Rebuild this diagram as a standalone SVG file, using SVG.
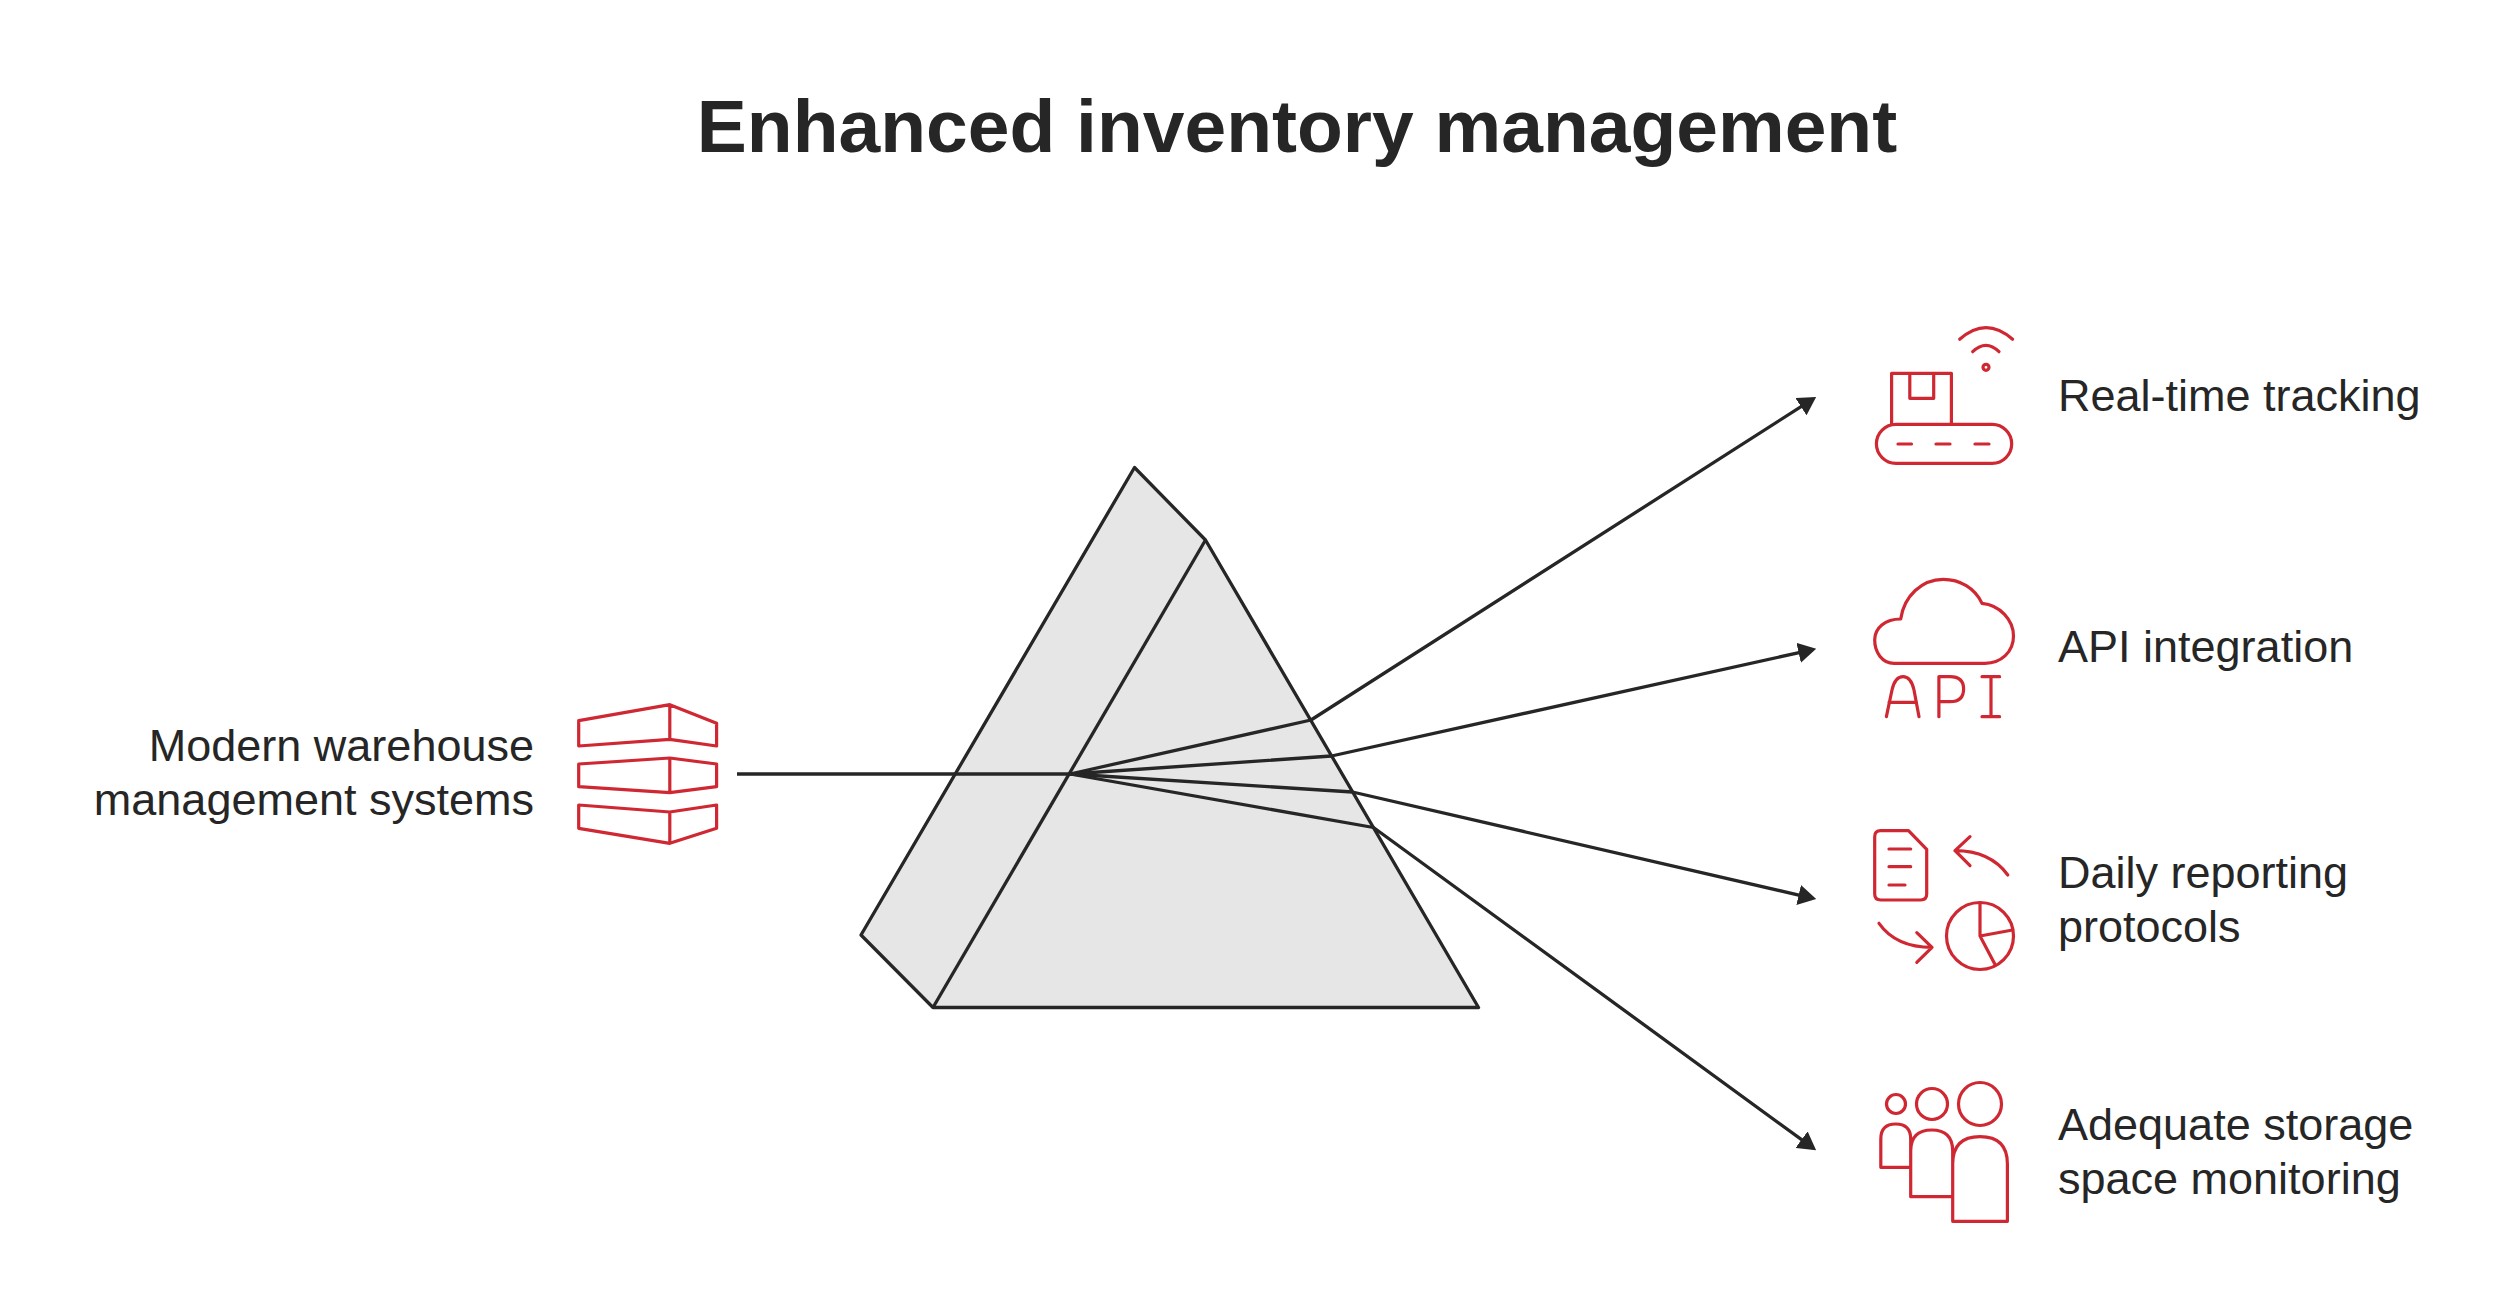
<svg xmlns="http://www.w3.org/2000/svg" width="2520" height="1307" viewBox="0 0 2520 1307">
<style>
text{font-family:"Liberation Sans",Arial,sans-serif;fill:#262626}
.t{font-size:45px}
.r{stroke:#CF2832;stroke-width:3.2;fill:none;stroke-linejoin:round;stroke-linecap:round}
.k{stroke:#262626;stroke-width:3.3;fill:none;stroke-linejoin:round}
.p{stroke:#262626;stroke-width:3.3;fill:#E6E6E6;stroke-linejoin:round}
.a{marker-end:url(#ah)}
</style>
<defs><marker id="ah" viewBox="0 0 18 20.5" refX="14.5" refY="10.25" markerWidth="18" markerHeight="20.5" markerUnits="userSpaceOnUse" orient="auto"><path d="M0 0L18 10.25L0 20.5Z" fill="#262626"/></marker></defs>
<rect width="2520" height="1307" fill="#fff"/>
<text x="1297" y="152" font-size="75" font-weight="700" text-anchor="middle">Enhanced inventory management</text>
<g id="prism"><path d="M1134.5 467.5L1205.5 540L1478.5 1007.5H933L861 935Z" class="p"/><path d="M1205.5 540L933 1007.5" class="k"/></g>
<g id="connectors">
<path class="k" d="M737 774H1070"/>
<path class="k a" d="M1070 774L1311 720L1813.2 398.9"/>
<path class="k a" d="M1070 774L1331.5 756L1812.8 649.6"/>
<path class="k a" d="M1070 774L1352.5 792L1812.8 898.3"/>
<path class="k a" d="M1070 774L1373.5 827.5L1813.3 1148.2"/>
</g>
<g id="source"><text class="t" x="534" y="761" text-anchor="end">Modern warehouse</text><text class="t" x="534" y="815" text-anchor="end">management systems</text>
<path class="r" d="M578.7 720.7L669.8 704.7L716.6 723.3V746L669.8 739.3L578.7 746ZM669.8 704.7V739.3M578.7 764L669.8 758L716.6 764V786.7L669.8 792.7L578.7 786.7ZM669.8 758V792.7M578.7 805L669.8 812L716.6 805V828.3L669.8 843.3L578.7 828.3ZM669.8 812V843.3"/></g>
<g id="tracking"><text class="t" x="2058" y="411">Real-time tracking</text>
<path class="r" d="M1959.7 339.3Q1986 316 2012.6 339.3M1972.7 351.7Q1986 339 1999 351.7"/><circle class="r" cx="1986" cy="367.3" r="3"/>
<path class="r" d="M1891.6 424.3V373.3H1951.4V424.3M1909.8 373.3V398.3H1933.7V373.3"/><rect class="r" x="1876.4" y="424.3" width="135.3" height="39" rx="19.5"/>
<path class="r" d="M1898 444H1911.5M1936 444H1950M1975 444H1989"/></g>
<g id="api"><text class="t" x="2058" y="662">API integration</text>
<path class="r" d="M1894 663.3C1882 663.3 1874.7 652 1874.7 640C1874.7 628 1885 619 1900.7 619C1904 596 1922 579.3 1943.2 579.3C1960 579.3 1975 588 1982 603.3C2000 605 2013.5 620 2013.5 636C2013.5 652 2001 663.3 1985 663.3Z"/>
<path class="r" d="M1886.4 716.7L1892 690Q1895 676.7 1903 676.7Q1911 676.7 1914 690L1919 716.7M1889 702.3H1916.5M1938.9 716.7V676.7H1950Q1963.6 676.7 1963.6 689Q1963.6 701.7 1950 701.7H1938.9M1991 676.7V716.7M1982 676.7H1999.6M1982 716.7H1999.6"/></g>
<g id="reporting"><text class="t" x="2058" y="888">Daily reporting</text><text class="t" x="2058" y="942">protocols</text>
<path class="r" d="M1880.7 830.7H1908.5L1926.7 849.3V894Q1926.7 900 1920.7 900H1880.7Q1874.7 900 1874.7 894V836.7Q1874.7 830.7 1880.7 830.7ZM1889 849H1910.7M1889 866.7H1910.7M1889 885H1905"/>
<path class="r" d="M2007.8 875Q1990 850.7 1955 850.7M1970 836.7L1955 850.7L1970 865.7M1879 923.3Q1896 947.3 1932 947.3M1916.8 932.7L1932 947.3L1916.8 962.3"/>
<circle class="r" cx="1980" cy="936" r="33.5"/><path class="r" d="M1980 902.5V936L2012.6 930M1980 936L1994.8 964"/></g>
<g id="storage"><text class="t" x="2058" y="1140">Adequate storage</text><text class="t" x="2058" y="1194">space monitoring</text>
<circle class="r" cx="1896" cy="1104" r="9.5"/><circle class="r" cx="1932" cy="1104" r="15.5"/><circle class="r" cx="1980" cy="1104" r="21.5"/>
<path class="r" d="M1910.7 1167.3H1880.8V1139Q1880.8 1124 1895.7 1124Q1910.7 1124 1910.7 1139V1196.7H1952.7V1151Q1952.7 1130 1931.7 1130Q1910.7 1130 1910.7 1151M1952.7 1163V1221.3H2007.4V1164Q2007.4 1136.7 1980 1136.7Q1952.7 1136.7 1952.7 1164Z"/></g>
</svg>
